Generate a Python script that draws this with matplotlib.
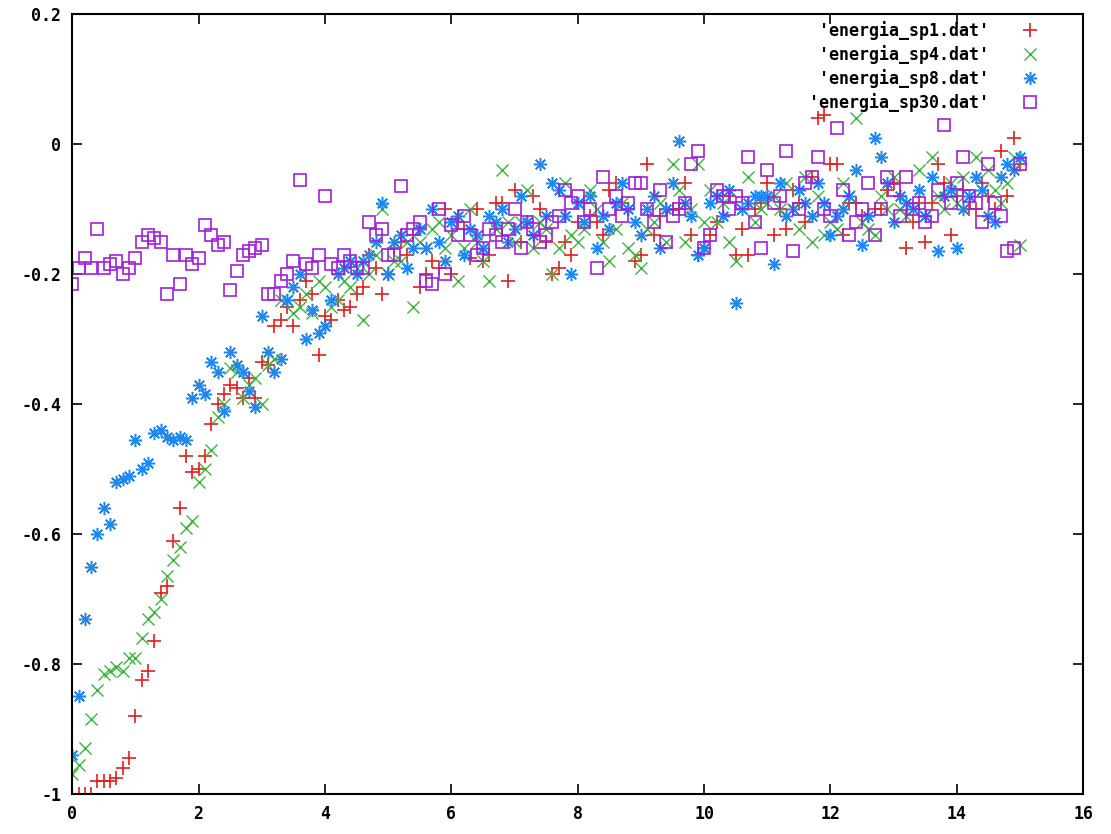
import numpy as np
import matplotlib
matplotlib.use("Agg")
from matplotlib import pyplot as plt

# x runs from 0 to 15 in steps of 0.1 for every file
x = [round(0.1 * i, 1) for i in range(151)]

sp1 = [-1.0, -1.0, -1.0, -1.0, -0.98, -0.98, -0.98, -0.975, -0.96, -0.945,
       -0.88, -0.825, -0.81, -0.765, -0.69, -0.68, -0.61, -0.56, -0.48, -0.505,
       -0.50, -0.48, -0.43, -0.40, -0.385, -0.37, -0.375, -0.39, -0.36, -0.39,
       -0.335, -0.34, -0.28, -0.27, -0.25, -0.28, -0.24, -0.21, -0.23, -0.325,
       -0.265, -0.27, -0.24, -0.255, -0.25, -0.23, -0.22, -0.17, -0.19, -0.23,
       -0.20, -0.16, -0.15, -0.17, -0.14, -0.22, -0.20, -0.18, -0.19, -0.10,
       -0.20, -0.12, -0.13, -0.175, -0.10, -0.18, -0.17, -0.09, -0.09, -0.21,
       -0.07, -0.15, -0.12, -0.08, -0.10, -0.15, -0.20, -0.19, -0.15, -0.17,
       -0.12, -0.09, -0.11, -0.12, -0.14, -0.07, -0.06, -0.09, -0.10, -0.18,
       -0.17, -0.03, -0.14, -0.11, -0.10, -0.10, -0.10, -0.06, -0.14, -0.17,
       -0.16, -0.14, -0.12, -0.08, -0.08, -0.17, -0.13, -0.17, -0.10, -0.09,
       -0.06, -0.14, -0.10, -0.13, -0.07, -0.09, -0.12, -0.05, 0.04, 0.045,
       -0.03, -0.03, -0.14, -0.09, -0.09, -0.11, -0.11, -0.10, -0.10, -0.07,
       -0.06, -0.08, -0.16, -0.12, -0.09, -0.15, -0.09, -0.03, -0.06, -0.14,
       -0.08, -0.07, -0.10, -0.10, -0.06, -0.08, -0.10, -0.01, -0.08, 0.01,
       -0.03]

sp4 = [-0.97, -0.955, -0.93, -0.885, -0.84, -0.815, -0.81, -0.805, -0.81, -0.79,
       -0.79, -0.76, -0.73, -0.72, -0.70, -0.665, -0.64, -0.62, -0.59, -0.58,
       -0.52, -0.50, -0.47, -0.42, -0.40, -0.345, -0.35, -0.39, -0.37, -0.36,
       -0.40, -0.34, -0.33, -0.24, -0.24, -0.26, -0.25, -0.23, -0.26, -0.21,
       -0.22, -0.25, -0.24, -0.21, -0.22, -0.19, -0.27, -0.20, -0.17, -0.10,
       -0.20, -0.18, -0.18, -0.15, -0.25, -0.15, -0.16, -0.13, -0.12, -0.16,
       -0.14, -0.21, -0.16, -0.10, -0.15, -0.18, -0.21, -0.13, -0.04, -0.12,
       -0.15, -0.12, -0.07, -0.16, -0.12, -0.13, -0.20, -0.16, -0.06, -0.14,
       -0.15, -0.13, -0.07, -0.10, -0.15, -0.18, -0.13, -0.09, -0.16, -0.17,
       -0.19, -0.13, -0.12, -0.09, -0.15, -0.03, -0.07, -0.15, -0.10, -0.03,
       -0.12, -0.07, -0.12, -0.09, -0.15, -0.18, -0.10, -0.05, -0.12, -0.10,
       -0.09, -0.08, -0.10, -0.06, -0.10, -0.13, -0.05, -0.15, -0.08, -0.14,
       -0.12, -0.13, -0.06, -0.08, 0.04, -0.12, -0.13, -0.14, -0.08, -0.10,
       -0.05, -0.10, -0.11, -0.10, -0.04, -0.11, -0.02, -0.08, -0.10, -0.06,
       -0.09, -0.05, -0.08, -0.02, -0.07, -0.04, -0.07, -0.09, -0.06, -0.02,
       -0.155]

sp8 = [-0.94, -0.85, -0.73, -0.65, -0.60, -0.56, -0.585, -0.52, -0.515, -0.51,
       -0.455, -0.50, -0.49, -0.445, -0.44, -0.45, -0.455, -0.45, -0.455, -0.39,
       -0.37, -0.385, -0.335, -0.35, -0.41, -0.32, -0.34, -0.35, -0.38, -0.405,
       -0.265, -0.32, -0.35, -0.33, -0.24, -0.22, -0.20, -0.30, -0.255, -0.29,
       -0.28, -0.24, -0.20, -0.19, -0.18, -0.20, -0.18, -0.17, -0.15, -0.09,
       -0.20, -0.15, -0.14, -0.19, -0.16, -0.13, -0.16, -0.10, -0.15, -0.18,
       -0.12, -0.11, -0.17, -0.13, -0.14, -0.16, -0.11, -0.12, -0.10, -0.15,
       -0.13, -0.08, -0.12, -0.14, -0.03, -0.11, -0.06, -0.07, -0.11, -0.20,
       -0.09, -0.12, -0.08, -0.16, -0.11, -0.13, -0.09, -0.06, -0.10, -0.12,
       -0.14, -0.10, -0.08, -0.16, -0.10, -0.06, 0.005, -0.09, -0.11, -0.17,
       -0.16, -0.09, -0.08, -0.11, -0.07, -0.245, -0.10, -0.09, -0.08, -0.08,
       -0.08, -0.185, -0.06, -0.11, -0.10, -0.07, -0.09, -0.11, -0.06, -0.09,
       -0.14, -0.11, -0.10, -0.08, -0.04, -0.155, -0.11, 0.01, -0.02, -0.06,
       -0.12, -0.08, -0.09, -0.10, -0.07, -0.11, -0.05, -0.165, -0.08, -0.07,
       -0.16, -0.10, -0.08, -0.05, -0.07, -0.11, -0.12, -0.05, -0.03, -0.04,
       -0.02]

sp30 = [-0.215, -0.19, -0.175, -0.19, -0.13, -0.19, -0.185, -0.18, -0.20, -0.19,
        -0.175, -0.15, -0.14, -0.145, -0.15, -0.23, -0.17, -0.215, -0.17, -0.185,
        -0.175, -0.125, -0.14, -0.155, -0.15, -0.225, -0.195, -0.17, -0.165, -0.16,
        -0.155, -0.23, -0.23, -0.21, -0.20, -0.18, -0.055, -0.185, -0.19, -0.17,
        -0.08, -0.185, -0.19, -0.17, -0.18, -0.19, -0.19, -0.12, -0.14, -0.13,
        -0.17, -0.17, -0.065, -0.14, -0.13, -0.12, -0.21, -0.215, -0.10, -0.20,
        -0.125, -0.14, -0.11, -0.14, -0.17, -0.16, -0.13, -0.14, -0.15, -0.13,
        -0.10, -0.16, -0.12, -0.13, -0.15, -0.14, -0.12, -0.11, -0.07, -0.09,
        -0.08, -0.12, -0.10, -0.19, -0.05, -0.10, -0.08, -0.11, -0.09, -0.06,
        -0.06, -0.10, -0.12, -0.07, -0.15, -0.11, -0.10, -0.09, -0.03, -0.01,
        -0.16, -0.14, -0.07, -0.08, -0.10, -0.08, -0.09, -0.02, -0.12, -0.16,
        -0.04, -0.09, -0.08, -0.01, -0.165, -0.10, -0.06, -0.05, -0.02, -0.10,
        -0.11, 0.025, -0.07, -0.14, -0.12, -0.10, -0.06, -0.14, -0.10, -0.05,
        -0.07, -0.11, -0.05, -0.10, -0.09, -0.12, -0.11, -0.07, 0.03, -0.09,
        -0.06, -0.02, -0.08, -0.09, -0.12, -0.03, -0.09, -0.11, -0.165, -0.16,
        -0.03]

labels = ["'energia_sp1.dat'", "'energia_sp4.dat'", "'energia_sp8.dat'", "'energia_sp30.dat'"]
xticks = [0, 2, 4, 6, 8, 10, 12, 14, 16]
yticks = [-1, -0.8, -0.6, -0.4, -0.2, 0, 0.2]
ytick_labels = ["-1", "-0.8", "-0.6", "-0.4", "-0.2", "0", "0.2"]

plt.rcParams['font.family'] = ['DejaVu Sans Mono']
plt.rcParams['font.weight'] = 'bold'

fig = plt.figure(figsize=(11.11, 8.34), dpi=100)
ax = fig.add_axes([0.065, 0.048, 0.91, 0.935])

ax.plot(x, sp1, ls="none", marker="+", ms=10, mew=1.2, color="#e0201c", label=labels[0])
ax.plot(x, sp4, ls="none", marker="x", ms=8, mew=1.0, color="#3cb43c", label=labels[1])
ax.plot(x, sp8, ls="none", marker=(8, 2, 0), ms=9.5, mew=1.1, color="#1e88ee", label=labels[2])
ax.plot(x, sp30, ls="none", marker="s", ms=9, mew=1.2, mfc="none", color="#a020d8", label=labels[3])

ax.set_xlim(0, 16)
ax.set_ylim(-1, 0.2)
ax.set_xticks(xticks)
ax.set_xticklabels([str(t) for t in xticks])
ax.set_yticks(yticks)
ax.set_yticklabels(ytick_labels)
ax.tick_params(direction="in", length=7, width=1.2, top=True, right=True, labelsize=12, pad=8)
for s in ax.spines.values():
    s.set_linewidth(1.5)

leg = ax.legend(loc="upper right", bbox_to_anchor=(0.969, 1.008), markerfirst=False, frameon=False,
                fontsize=12, labelspacing=0.3, handlelength=1.0, handletextpad=2.0, borderaxespad=0.4)

plt.savefig("out.png", dpi=100)
